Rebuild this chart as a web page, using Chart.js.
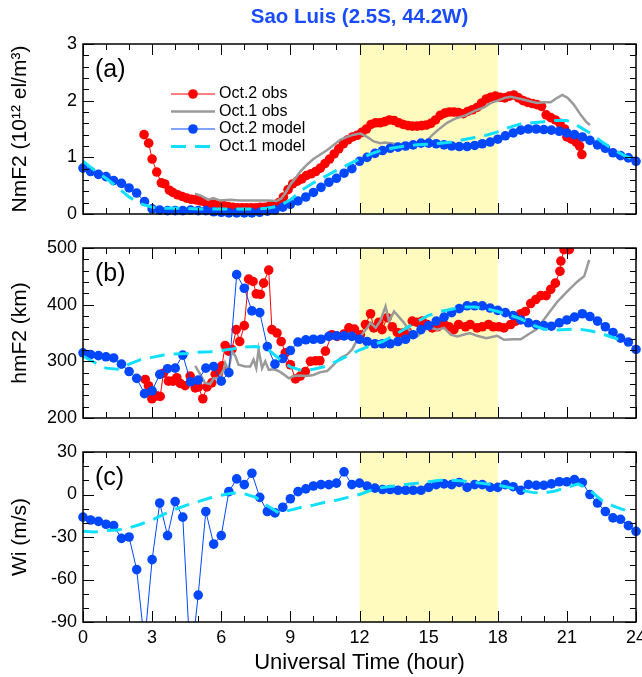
<!DOCTYPE html>
<html>
<head>
<meta charset="utf-8">
<script src="https://cdn.jsdelivr.net/npm/chart.js@4.4.1/dist/chart.umd.min.js"></script>
<style>
  html, body { margin: 0; padding: 0; background: #fff; }
  #wrap { position: relative; width: 642px; height: 677px; }
  .panel { position: absolute; left: 0; width: 642px; }
</style>
</head>
<body>
<div id="wrap">
  <div class="panel" style="top:0;height:230px"><canvas id="panelA"></canvas></div>
  <div class="panel" style="top:230px;height:204px"><canvas id="panelB"></canvas></div>
  <div class="panel" style="top:434px;height:243px"><canvas id="panelC"></canvas></div>
</div>
<script>
// Oct.2 model is sampled every 20 minutes
const modelHours = [0,0.33,0.67,1,1.33,1.67,2,2.33,2.67,3,3.33,3.67,4,4.33,4.67,5,5.33,5.67,6,6.33,6.67,7,7.33,7.67,8,8.33,8.67,9,9.33,9.67,10,10.33,10.67,11,11.33,11.67,12,12.33,12.67,13,13.33,13.67,14,14.33,14.67,15,15.33,15.67,16,16.33,16.67,17,17.33,17.67,18,18.33,18.67,19,19.33,19.67,20,20.33,20.67,21,21.33,21.67,22,22.33,22.67,23,23.33,23.67,24];

// (a) NmF2, 10^12 el/m^3
const nmf2Oct2Model = [0.81,0.75,0.70,0.66,0.59,0.54,0.46,0.37,0.22,0.09,0.07,0.06,0.06,0.06,0.07,0.06,0.06,0.04,0.03,0.02,0.02,0.02,0.02,0.03,0.05,0.07,0.12,0.17,0.23,0.30,0.38,0.47,0.56,0.63,0.72,0.80,0.93,1.00,1.07,1.12,1.16,1.18,1.20,1.22,1.25,1.25,1.24,1.22,1.20,1.19,1.19,1.21,1.24,1.27,1.32,1.38,1.43,1.48,1.50,1.50,1.49,1.48,1.46,1.43,1.40,1.36,1.30,1.22,1.16,1.08,1.03,0.99,0.93];
const nmf2Oct2Obs = [[2.65,1.40],[2.85,1.25],[3.0,0.97],[3.2,0.74],[3.4,0.55],[3.55,0.53],[3.75,0.42],[3.9,0.38],[4.1,0.34],[4.3,0.31],[4.5,0.28],[4.7,0.26],[4.9,0.25],[5.1,0.23],[5.3,0.21],[5.5,0.19],[5.7,0.17],[5.9,0.16],[6.1,0.15],[6.3,0.13],[6.5,0.12],[6.7,0.11],[6.9,0.11],[7.1,0.11],[7.3,0.11],[7.5,0.11],[7.7,0.12],[7.9,0.12],[8.1,0.14],[8.3,0.15],[8.5,0.20],[8.7,0.30],[8.9,0.43],[9.1,0.53],[9.3,0.58],[9.5,0.62],[9.7,0.68],[9.9,0.71],[10.1,0.75],[10.3,0.81],[10.5,0.89],[10.7,0.97],[10.9,1.06],[11.1,1.15],[11.3,1.24],[11.5,1.31],[11.7,1.36],[11.9,1.39],[12.1,1.44],[12.3,1.50],[12.5,1.58],[12.7,1.61],[12.9,1.61],[13.1,1.63],[13.3,1.66],[13.5,1.65],[13.7,1.61],[13.9,1.58],[14.1,1.56],[14.3,1.55],[14.5,1.55],[14.7,1.56],[14.9,1.57],[15.1,1.60],[15.3,1.66],[15.5,1.74],[15.7,1.78],[15.9,1.80],[16.1,1.80],[16.3,1.79],[16.5,1.77],[16.7,1.81],[16.9,1.84],[17.1,1.88],[17.3,1.96],[17.5,2.03],[17.7,2.06],[17.9,2.08],[18.1,2.06],[18.3,2.05],[18.5,2.08],[18.7,2.10],[18.9,2.05],[19.1,2.00],[19.3,1.97],[19.5,1.95],[19.7,1.93],[19.9,1.90],[20.1,1.75],[20.3,1.70],[20.5,1.66],[20.7,1.60],[20.9,1.50],[21.0,1.36],[21.2,1.32],[21.4,1.27],[21.55,1.20],[21.65,1.05]];
const nmf2Oct1Obs = [[4.86,0.36],[5.14,0.32],[5.43,0.25],[5.65,0.28],[5.94,0.24],[6.38,0.25],[6.8,0.24],[7.25,0.24],[7.68,0.24],[8.1,0.24],[8.4,0.23],[8.6,0.27],[8.8,0.38],[9.0,0.52],[9.2,0.62],[9.43,0.75],[9.72,0.87],[10.0,0.97],[10.3,1.05],[10.6,1.13],[10.88,1.22],[11.17,1.31],[11.46,1.36],[11.75,1.40],[12.04,1.42],[12.33,1.36],[12.62,1.28],[12.9,1.25],[13.1,1.26],[13.5,1.24],[14.0,1.22],[14.5,1.23],[14.9,1.28],[15.1,1.37],[15.4,1.48],[15.8,1.61],[16.2,1.69],[16.6,1.74],[17.0,1.82],[17.4,1.88],[17.7,1.96],[18.0,2.00],[18.3,2.05],[18.56,2.07],[19.0,2.03],[19.4,1.99],[19.7,1.96],[20.0,1.97],[20.3,1.97],[20.5,2.03],[20.8,2.10],[21.03,2.05],[21.3,1.93],[21.6,1.75],[21.83,1.63],[22.0,1.57]];
const nmf2Oct1Model = [[0,0.93],[0.5,0.77],[1,0.63],[1.5,0.47],[2,0.30],[2.5,0.18],[3,0.12],[3.5,0.10],[4,0.10],[4.5,0.10],[5,0.09],[5.5,0.09],[6,0.09],[6.5,0.09],[7,0.09],[7.5,0.09],[8,0.10],[8.5,0.14],[9,0.25],[9.5,0.42],[10,0.55],[10.5,0.66],[11,0.77],[11.5,0.87],[12,0.97],[12.5,1.06],[13,1.13],[13.5,1.17],[14,1.20],[14.5,1.22],[15,1.23],[15.5,1.25],[16,1.27],[16.5,1.31],[17,1.35],[17.5,1.39],[18,1.45],[18.5,1.53],[19,1.59],[19.5,1.61],[20,1.63],[20.5,1.65],[21,1.65],[21.5,1.55],[22,1.43],[22.5,1.28],[23,1.14],[23.5,1.03],[24,0.95]];

// (b) hmF2, km
const hmf2Oct2Model = [315,312,310,308,306,295,282,270,243,248,277,287,288,311,264,267,288,291,265,280,453,429,389,386,326,295,305,319,334,338,339,339,344,345,345,344,339,335,331,331,331,335,339,347,356,363,371,378,386,393,398,398,398,394,390,386,381,373,368,365,363,362,368,373,378,384,379,371,361,351,341,334,321];
const hmf2Oct2Obs = [[2.7,268],[2.84,257],[2.99,234],[3.2,239],[3.35,238],[3.49,279],[3.71,265],[3.9,265],[4.07,271],[4.22,261],[4.43,257],[4.65,274],[4.87,253],[5.01,255],[5.2,234],[5.38,255],[5.59,262],[5.74,277],[5.88,279],[6.03,292],[6.17,328],[6.32,318],[6.46,321],[6.65,356],[6.8,335],[7.0,363],[7.19,445],[7.38,441],[7.52,419],[7.7,418],[7.84,438],[8.06,461],[8.2,356],[8.42,350],[8.6,335],[8.78,315],[9.0,294],[9.22,269],[9.43,274],[9.65,282],[9.87,300],[10.09,301],[10.28,301],[10.52,318],[10.8,347],[11.03,344],[11.32,348],[11.54,359],[11.78,357],[12.04,347],[12.26,365],[12.48,384],[12.62,359],[12.84,369],[12.98,356],[13.2,377],[13.42,361],[13.64,351],[13.86,350],[14.07,353],[14.29,371],[14.5,369],[14.72,371],[14.94,365],[15.16,359],[15.38,361],[15.67,365],[15.88,361],[16.1,356],[16.3,365],[16.6,361],[16.8,365],[17.1,359],[17.33,361],[17.6,365],[17.8,361],[18.05,361],[18.27,359],[18.56,365],[18.78,371],[19.0,384],[19.2,388],[19.43,402],[19.65,409],[19.87,416],[20.1,416],[20.3,427],[20.5,438],[20.7,459],[20.74,477],[20.88,497],[21.1,497]];
const hmf2Oct1Obs = [[4.87,292],[5.09,277],[5.3,262],[5.52,260],[5.67,270],[5.9,271],[6.1,285],[6.17,297],[6.32,283],[6.46,318],[6.6,310],[6.75,294],[7.04,291],[7.26,291],[7.4,303],[7.52,288],[7.62,321],[7.77,288],[7.91,300],[8.06,285],[8.27,286],[8.49,283],[8.71,277],[8.93,270],[9.14,274],[9.43,275],[9.72,274],[10.0,276],[10.3,281],[10.6,283],[10.88,294],[11.17,306],[11.46,312],[11.68,321],[11.9,338],[12.04,344],[12.33,359],[12.48,368],[12.7,359],[12.9,371],[13.13,397],[13.28,371],[13.5,388],[13.7,379],[13.93,368],[14.2,353],[14.5,344],[14.8,356],[15.1,359],[15.38,356],[15.67,359],[15.96,347],[16.25,344],[16.5,347],[16.8,350],[17.1,345],[17.5,341],[17.98,345],[18.27,338],[18.7,339],[19.0,339],[19.3,347],[19.7,357],[20.16,382],[20.6,406],[21.03,424],[21.46,441],[21.75,450],[21.97,479]];
const hmf2Oct1Model = [[0,309],[0.5,298],[1,288],[1.5,286],[2,295],[2.5,303],[3,307],[3.5,311],[4,313],[4.5,314],[5,316],[5.5,317],[6,319],[6.5,322],[7,325],[7.5,326],[8,322],[8.5,305],[9,290],[9.5,284],[10,286],[10.5,291],[11,300],[11.5,310],[12,320],[12.5,328],[13,335],[13.5,346],[14,358],[14.5,370],[15,381],[15.5,388],[16,392],[16.5,396],[17,396],[17.5,393],[18,388],[18.5,382],[19,375],[19.5,364],[20,357],[20.5,355],[21,356],[21.5,357],[22,354],[22.5,349],[23,342],[23.5,336]];

// (c) Wi, m/s (values below -90 run off the panel)
const wiOct2Model = [-16,-18,-19,-21,-22,-31,-30,-53,-105,-46,-6,-29,-5,-16,-120,-71,-12,-35,-29,2,11,7,15,-2,-12,-13,-9,-3,2,4,6,7,7,8,16,7,8,6,4.5,3.5,3.5,3,3,3,3,5,7,7.5,7,8.5,5,7,7,5,5,7,5.5,3,7,6.5,6.5,7.5,9,9,10.5,8.5,0,-6,-12,-16.5,-17.5,-22,-26];
const wiOct1Model = [[0,-26],[0.5,-26.5],[1,-25.5],[1.5,-25],[2,-23.5],[2.5,-21],[3,-18],[3.5,-14],[4,-10.5],[4.5,-7.5],[5,-5],[5.5,-2.5],[6,-0.5],[6.5,1],[7,0.5],[7.5,-2],[8,-8],[8.5,-13],[9,-11],[9.5,-9],[10,-7.5],[10.5,-5.5],[11,-4],[11.5,-2],[12,0],[12.5,3],[13,5],[13.5,6],[14,7],[14.5,8],[15,9],[15.5,10],[16,10],[16.5,9.5],[17,8.5],[17.5,7.5],[18,6.5],[18.5,5],[19,3],[19.5,1.5],[20,1],[20.5,2.5],[21,5],[21.5,7.5],[22,3],[22.5,-4],[23,-8],[23.5,-11],[23.7,-13]];

const dayBand = [12, 18];
const hourTicks = [0, 3, 6, 9, 12, 15, 18, 21, 24];

// styling
const red = '#ff0000';
const blue = '#0048ff';
const grey = '#9a9a9a';
const cyan = '#10e0ff';
const band_color = '#fffbbe';
const dot_radius = 4.8;
const font_family = '"Liberation Sans", Arial, sans-serif';

Chart.defaults.font.family = font_family;
Chart.defaults.color = '#000';

function is_major(v, step) {
    return Math.abs(v / step - Math.round(v / step)) < 1e-6;
}
function pairs(list) {
    return list.map(p => ({ x: p[0], y: p[1] }));
}
function on_model_hours(values) {
    return values.map((v, i) => ({ x: modelHours[i], y: v }));
}

function generate_sets(oct2obs, oct1obs, oct2model, oct1model, clipBottom) {
    const clip = { left: 6, right: 6, top: 0, bottom: clipBottom };
    const sets = [];
    if (oct2obs) sets.push({ label: 'Oct.2 obs', data: oct2obs, borderColor: red, borderWidth: 1, pointRadius: dot_radius, pointBorderWidth: 0, pointBackgroundColor: red, order: 4, clip: clip });
    if (oct1obs) sets.push({ label: 'Oct.1 obs', data: oct1obs, borderColor: grey, borderWidth: 2.5, pointRadius: 0, order: 3, clip: clip });
    sets.push({ label: 'Oct.2 model', data: oct2model, borderColor: blue, borderWidth: 1, pointRadius: dot_radius, pointBorderWidth: 0, pointBackgroundColor: blue, order: 2, clip: clip });
    sets.push({ label: 'Oct.1 model', data: oct1model, borderColor: cyan, borderWidth: 3, borderDash: [15, 9], pointRadius: 0, order: 1, clip: clip });
    return sets;
}

// yellow band, inward ticks on all four sides, frame and panel letter
const frame_plugin = {
    id: 'frame',
    beforeDatasetsDraw(chart) {
        const { ctx, chartArea: a, scales: { x } } = chart;
        const x0 = x.getPixelForValue(dayBand[0]);
        const x1 = x.getPixelForValue(dayBand[1]);
        ctx.save();
        ctx.fillStyle = band_color;
        ctx.fillRect(x0, a.top, x1 - x0, a.bottom - a.top);
        ctx.restore();
    },
    afterDatasetsDraw(chart, args, opts) {
        const { ctx, chartArea: a, scales: { x, y } } = chart;
        ctx.save();
        ctx.strokeStyle = '#000';
        ctx.lineWidth = 1;
        ctx.beginPath();
        x.ticks.forEach(t => {
            const px = Math.round(x.getPixelForValue(t.value)) + 0.5;
            const len = is_major(t.value, opts.xMajor) ? 11 : 6;
            ctx.moveTo(px, a.bottom); ctx.lineTo(px, a.bottom - len);
            ctx.moveTo(px, a.top); ctx.lineTo(px, a.top + len);
        });
        y.ticks.forEach(t => {
            const py = Math.round(y.getPixelForValue(t.value)) + 0.5;
            const len = is_major(t.value, opts.yMajor) ? 11 : 6;
            ctx.moveTo(a.left, py); ctx.lineTo(a.left + len, py);
            ctx.moveTo(a.right, py); ctx.lineTo(a.right - len, py);
        });
        ctx.stroke();
        ctx.lineWidth = 1.5;
        ctx.strokeRect(a.left, a.top, a.right - a.left, a.bottom - a.top);
        ctx.fillStyle = '#000';
        ctx.font = '25px ' + font_family;
        ctx.textBaseline = 'middle';
        ctx.fillText(opts.tag, a.left + 12, a.top + 26);
        ctx.restore();
    }
};

// legend drawn inside panel (a) from the dataset styles
const inside_legend = {
    id: 'insideLegend',
    afterDatasetsDraw(chart, args, opts) {
        const { ctx, chartArea: a } = chart;
        ctx.save();
        ctx.font = '16px ' + font_family;
        ctx.textBaseline = 'middle';
        chart.data.datasets.forEach((ds, i) => {
            const yy = a.top + opts.top + i * opts.rowGap;
            const x0 = a.left + opts.left;
            const x1 = x0 + opts.lineLen;
            ctx.save();
            ctx.strokeStyle = ds.borderColor;
            ctx.lineWidth = ds.borderWidth;
            ctx.setLineDash(ds.borderDash || []);
            ctx.beginPath(); ctx.moveTo(x0, yy); ctx.lineTo(x1, yy); ctx.stroke();
            ctx.restore();
            if (ds.pointRadius > 0) {
                ctx.fillStyle = ds.pointBackgroundColor;
                ctx.beginPath(); ctx.arc((x0 + x1) / 2, yy, ds.pointRadius, 0, Math.PI * 2); ctx.fill();
            }
            ctx.fillStyle = '#000';
            ctx.fillText(ds.label, x1 + 4, yy);
        });
        ctx.restore();
    }
};

function x_axis(show_labels, height) {
    return {
        type: 'linear', min: 0, max: 24,
        afterFit: s => { s.height = height; s.paddingLeft = 0; s.paddingRight = 0; },
        grid: { display: false, drawTicks: false },
        border: { display: false },
        ticks: {
            display: show_labels, stepSize: 1, autoSkip: false, maxRotation: 0, padding: 5,
            font: { size: 18 },
            callback: v => hourTicks.includes(v) ? String(v) : ''
        },
        title: { display: show_labels, text: 'Universal Time (hour)', font: { size: 22 }, padding: { top: 0, bottom: 1 } }
    };
}
function y_axis(min, max, minor, major, title) {
    return {
        min: min, max: max,
        afterFit: s => { s.width = 83; s.paddingTop = 0; s.paddingBottom = 0; },
        grid: { display: false, drawTicks: false },
        border: { display: false },
        ticks: {
            stepSize: minor, autoSkip: false, padding: 6,
            font: { size: 18 },
            callback: v => is_major(v, major) ? String(Math.round(v)) : ''
        },
        title: { display: true, text: title, font: { size: 21 }, padding: { top: 8, bottom: 0 } }
    };
}

function create_panel(id, sets, xScale, yScale, extra) {
    const options = {
        animation: false,
        responsive: true,
        maintainAspectRatio: false,
        layout: { padding: { left: 0, right: 6, top: extra.padTop, bottom: 0 } },
        scales: { x: xScale, y: yScale },
        plugins: {
            legend: { display: false },
            tooltip: { enabled: false },
            title: extra.title || { display: false },
            frame: { tag: extra.tag, xMajor: 3, yMajor: extra.yMajor },
            insideLegend: { top: 50, rowGap: 17.5, left: 88, lineLen: 44 }
        }
    };
    const plugins = [frame_plugin];
    if (extra.legend) plugins.push(inside_legend);
    return new Chart(document.getElementById(id), { type: 'line', data: { datasets: sets }, options: options, plugins: plugins });
}

create_panel('panelA',
    generate_sets(pairs(nmf2Oct2Obs), pairs(nmf2Oct1Obs), on_model_hours(nmf2Oct2Model), pairs(nmf2Oct1Model), 5),
    x_axis(false, 16), y_axis(0, 3, 0.2, 1, 'NmF2 (10¹² el/m³)'),
    {
        padTop: 0, tag: '(a)', yMajor: 1, legend: true,
        title: {
            display: true, text: 'Sao Luis (2.5S, 44.2W)', color: '#1a4cff', fullSize: false,
            font: { size: 20.5, weight: 'bold' }, padding: { top: 5.5, bottom: 13.9 }
        }
    });

create_panel('panelB',
    generate_sets(pairs(hmf2Oct2Obs), pairs(hmf2Oct1Obs), on_model_hours(hmf2Oct2Model), pairs(hmf2Oct1Model), 0),
    x_axis(false, 16), y_axis(200, 500, 20, 100, 'hmF2 (km)'),
    { padTop: 18, tag: '(b)', yMajor: 100 });

create_panel('panelC',
    generate_sets(null, null, on_model_hours(wiOct2Model), pairs(wiOct1Model), 0),
    x_axis(true, 55), y_axis(-90, 30, 10, 30, 'Wi (m/s)'),
    { padTop: 18, tag: '(c)', yMajor: 30 });
</script>
</body>
</html>
